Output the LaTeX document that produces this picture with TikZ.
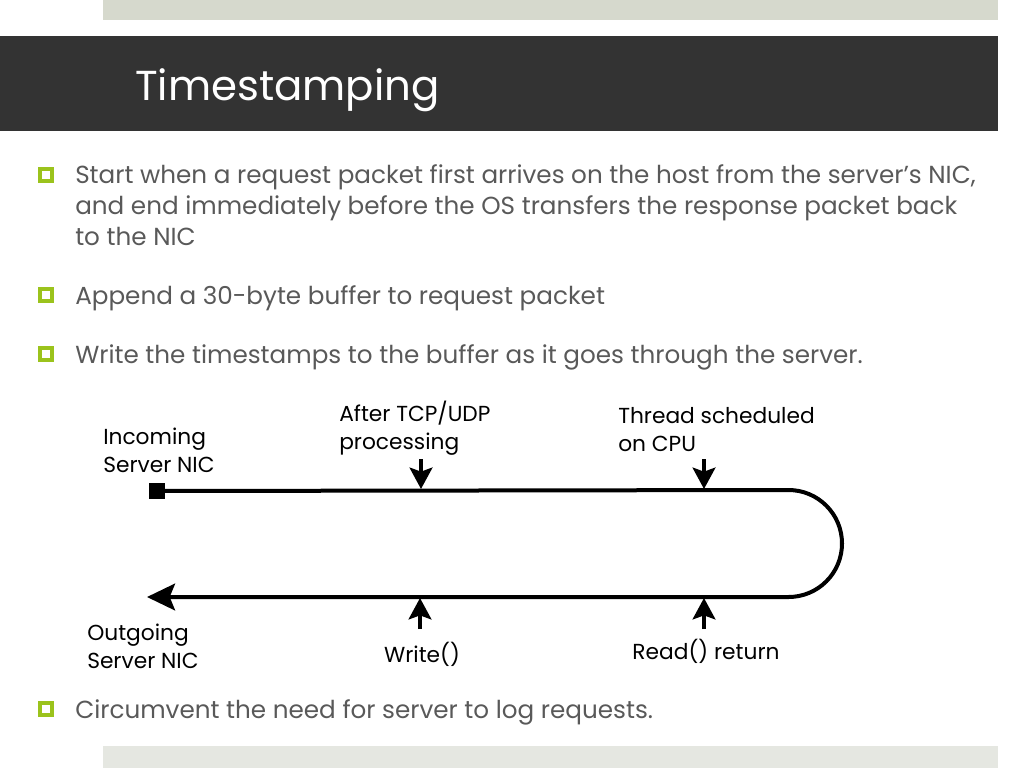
\documentclass[tikz,border=0pt]{standalone}
\usepackage{fontspec}
\setmainfont{Poppins}
\usetikzlibrary{arrows.meta}
\definecolor{slidegray}{HTML}{595959}
\definecolor{titlebar}{HTML}{333333}
\definecolor{bulletgreen}{HTML}{9BC31C}
\definecolor{topband}{HTML}{D6D9CD}
\definecolor{footband}{HTML}{E5E7E1}

\tikzset{
  bullettext/.style={anchor=base west, align=left, inner sep=0pt, text=slidegray,
    font=\fontsize{18.5}{23.2}\selectfont},
  bulletbox/.style={draw=bulletgreen, line width=3pt, fill=white, inner sep=0pt, minimum size=9pt},
  marklabel/.style={align=left, inner sep=0pt, font=\fontsize{16.3}{20.5}\selectfont},
  pathline/.style={line width=3pt},
  tickarrow/.style={line width=3pt, -{Stealth[length=16pt, width=17pt, inset=3pt]}},
}

\begin{document}
\begin{tikzpicture}[x=0.75pt, y=-0.75pt]
\useasboundingbox (0,0) rectangle (1024,768);

% slide frame
\fill[topband] (103,0) rectangle (998,20);
\fill[titlebar] (0,36) rectangle (998,131);
\fill[footband] (103,746) rectangle (998,768);
\node[anchor=base west, inner sep=0pt, text=white, font=\fontsize{31.4}{40}\selectfont] (title) at (135,100) {Timestamping};

% bullets (base = last line)
\node[bulletbox] (b1) at (46,175) {};
\node[bullettext] (t1) at (75,245) {Start when a request packet first arrives on the host from the server’s NIC,\\
and end immediately before the OS transfers the response packet back\\
to the NIC};
\node[bulletbox] (b2) at (46,295) {};
\node[bullettext] (t2) at (75,304) {Append a 30-byte buffer to request packet};
\node[bulletbox] (b3) at (46,354) {};
\node[bullettext] (t3) at (75,363) {Write the timestamps to the buffer as it goes through the server.};
\node[bulletbox] (b4) at (46,709) {};
\node[bullettext] (t4) at (75,718) {Circumvent the need for server to log requests.};

% packet path
\node[fill=black, inner sep=0pt, minimum size=12pt] (nicin) at (157,491) {};
\coordinate (turn) at (788.5,490);
\coordinate (nicout) at (147,597);
\draw[pathline, -{Stealth[length=21pt, width=20pt, inset=4pt]}]
  (nicin.center) -- (turn) arc[start angle=-90, end angle=90, radius=53.5] -- (nicout);

% timestamp points
\coordinate (tcpfrom) at (421,459);   \coordinate (tcpto) at (421,489);
\coordinate (threadfrom) at (704,459); \coordinate (threadto) at (704,489);
\coordinate (writefrom) at (420,629); \coordinate (writeto) at (420,598);
\coordinate (readfrom) at (704,629);  \coordinate (readto) at (704,598);
\draw[tickarrow] (tcpfrom) -- (tcpto);
\draw[tickarrow] (threadfrom) -- (threadto);
\draw[tickarrow] (writefrom) -- (writeto);
\draw[tickarrow] (readfrom) -- (readto);

\node[marklabel, anchor=base west] (incoming) at (103,472) {Incoming\\Server NIC};
\node[marklabel, anchor=base west] (tcp) at (339,449) {After TCP/UDP\\processing};
\node[marklabel, anchor=base west] (thread) at (618,451) {Thread scheduled\\on CPU};
\node[marklabel, anchor=base west] (outgoing) at (87,668) {Outgoing\\Server NIC};
\node[marklabel, anchor=base] (writecall) at (422,662) {Write()};
\node[marklabel, anchor=base] (readret) at (706,659) {Read() return};
\end{tikzpicture}
\end{document}
